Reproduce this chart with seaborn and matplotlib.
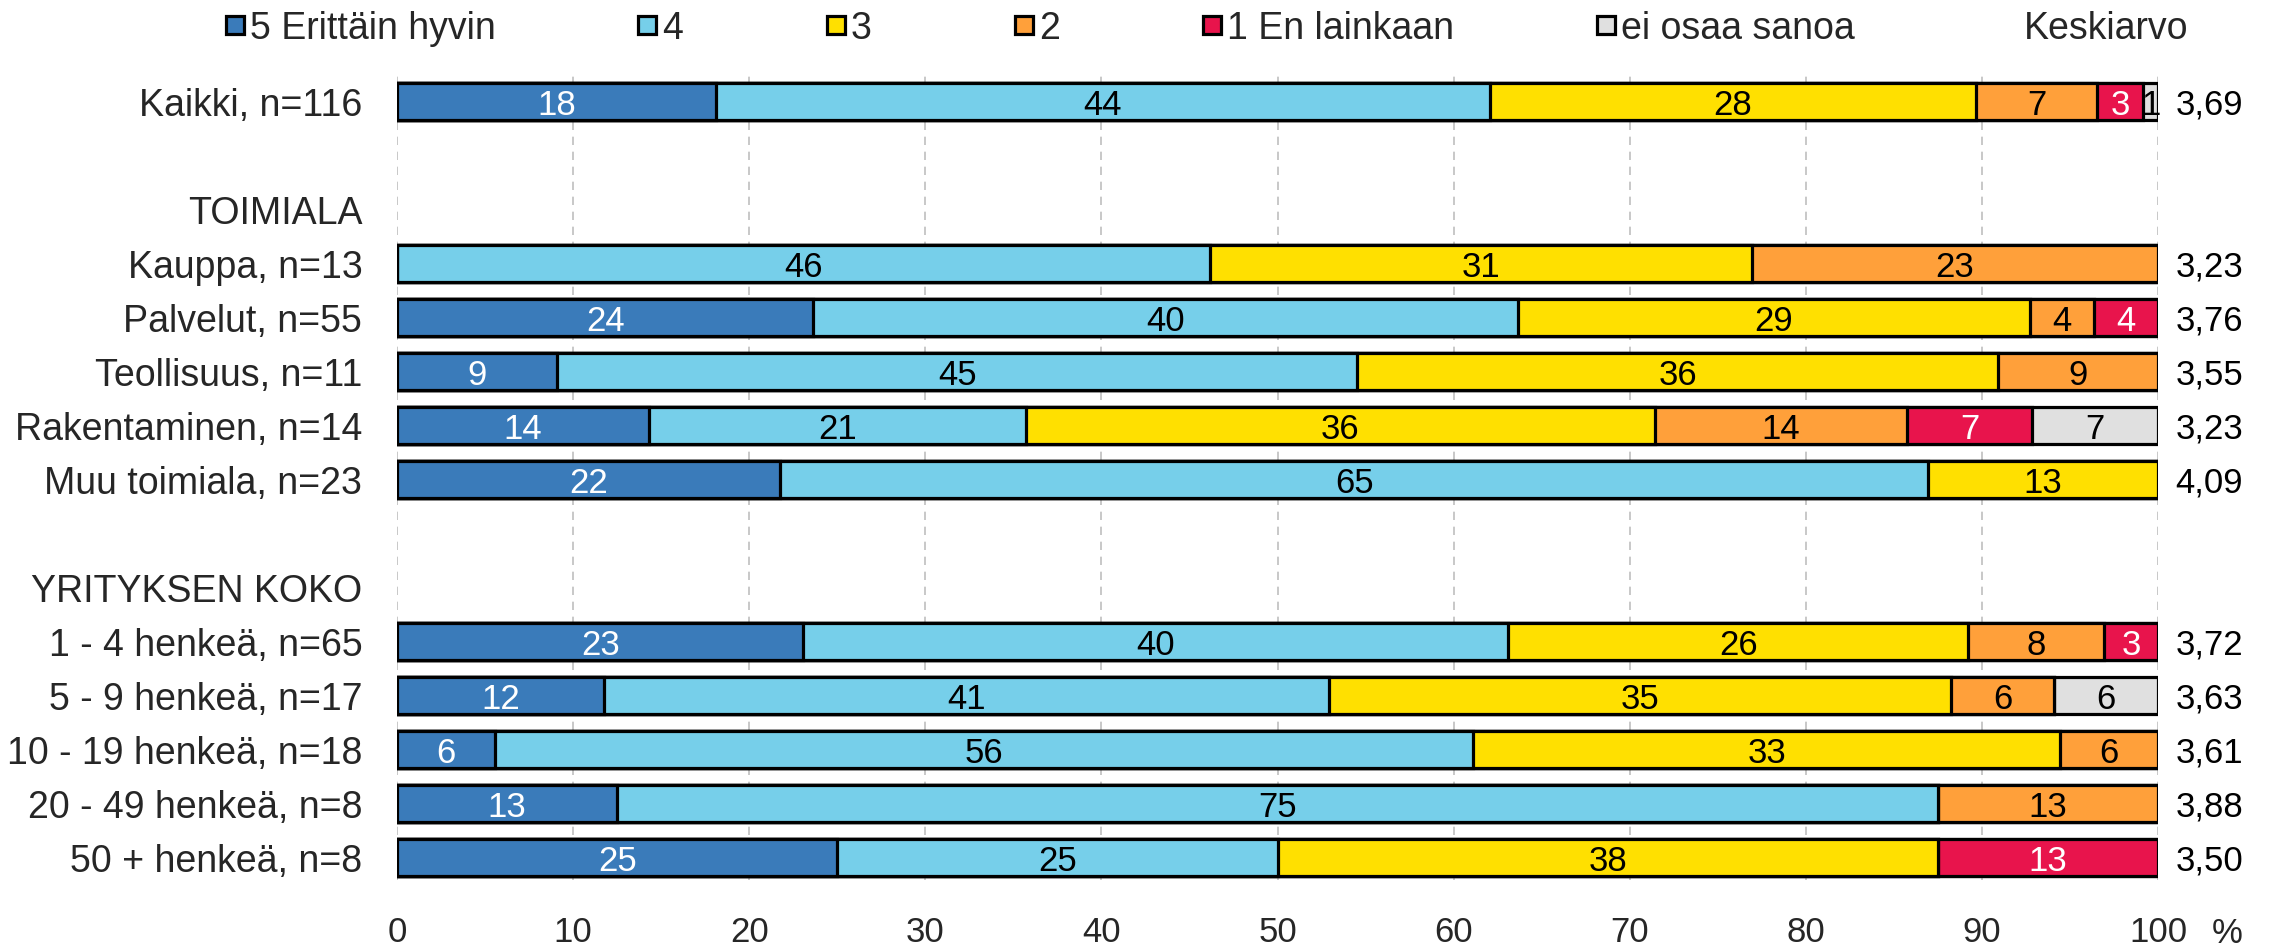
import matplotlib
matplotlib.use("Agg")
import matplotlib.pyplot as plt
from matplotlib.patches import Rectangle
import numpy as np
import pandas as pd
import seaborn as sns

# ─── Data ─────────────────────────────────────────────────────────────────────
groups = [
    "Kaikki, n=116",
    "Kauppa, n=13", "Palvelut, n=55", "Teollisuus, n=11",
    "Rakentaminen, n=14", "Muu toimiala, n=23",
    "1 - 4 henkeä, n=65", "5 - 9 henkeä, n=17", "10 - 19 henkeä, n=18",
    "20 - 49 henkeä, n=8", "50 + henkeä, n=8",
]
row_order = [
    "Kaikki, n=116", " ", "TOIMIALA",
    "Kauppa, n=13", "Palvelut, n=55", "Teollisuus, n=11",
    "Rakentaminen, n=14", "Muu toimiala, n=23", "  ", "YRITYKSEN KOKO",
    "1 - 4 henkeä, n=65", "5 - 9 henkeä, n=17", "10 - 19 henkeä, n=18",
    "20 - 49 henkeä, n=8", "50 + henkeä, n=8",
]
levels = ["5 Erittäin hyvin", "4", "3", "2", "1 En lainkaan", "ei osaa sanoa"]

v5 = [18.10, 0.00, 23.64, 9.09, 14.29, 21.74, 23.08, 11.76, 5.56, 12.50, 25.00]
v4 = [43.97, 46.15, 40.00, 45.45, 21.43, 65.22, 40.00, 41.18, 55.56, 75.00, 25.00]
v3 = [27.59, 30.77, 29.09, 36.36, 35.71, 13.04, 26.15, 35.29, 33.33, 0.00, 37.50]
v2 = [6.90, 23.08, 3.64, 9.09, 14.29, 0.00, 7.69, 5.88, 5.56, 12.50, 0.00]
v1 = [2.59, 0.00, 3.64, 0.00, 7.14, 0.00, 3.08, 0.00, 0.00, 0.00, 12.50]
veos = [0.86, 0.00, 0.00, 0.00, 7.14, 0.00, 0.00, 5.88, 0.00, 0.00, 0.00]
keskiarvo = ["3,69", "3,23", "3,76", "3,55", "3,23", "4,09",
             "3,72", "3,63", "3,61", "3,88", "3,50"]
x_ticks = [0, 10, 20, 30, 40, 50, 60, 70, 80, 90, 100]

COLORS = ["#3A7BBA", "#76CFEA", "#FFE000", "#FFA03A", "#E8144C", "#E0E0E0"]
TEXT_COLORS = ["white", "black", "black", "black", "white", "black"]

W, H = 2277, 946
FS_NUM = 25    # numbers in bars, ticks, averages
FS_TXT = 27    # row labels and legend text

sns.set_theme(style="white")
plt.rcParams["font.family"] = ["Liberation Sans", "DejaVu Sans"]

vals = np.array([v5, v4, v3, v2, v1, veos])
cum = np.cumsum(vals, axis=0)

fig = plt.figure(figsize=(W / 100, H / 100), dpi=100, facecolor="white")
ax = fig.add_axes([397 / W, 66 / H, (2158 - 397) / W, (880 - 74) / H])

# stacked bars: draw cumulative totals from the right-most level down
for i in range(len(levels) - 1, -1, -1):
    df = pd.DataFrame({"group": groups, "cum": cum[i]})
    sns.barplot(data=df, x="cum", y="group", order=row_order, orient="h",
                color=COLORS[i], saturation=1, edgecolor="black",
                linewidth=2.3, width=0.68, errorbar=None, ax=ax)

pos = {g: row_order.index(g) for g in groups}
for i in range(len(levels)):
    for j, g in enumerate(groups):
        v = vals[i, j]
        if v <= 0:
            continue
        xc = cum[i, j] - v / 2
        ax.text(xc, pos[g], str(int(v + 0.5)), ha="center", va="center_baseline",
                fontsize=FS_NUM, color=TEXT_COLORS[i])

for j, g in enumerate(groups):
    ax.text(101.0, pos[g], keskiarvo[j], ha="left", va="center_baseline",
            fontsize=FS_NUM, color="black", clip_on=False)

ax.set_xlim(0, 100)
ax.set_ylim(14.41, -0.51)
ax.set_xticks(x_ticks)
ax.set_xticklabels([str(t) for t in x_ticks], fontsize=FS_NUM)
ax.set_yticks(range(len(row_order)))
ax.set_yticklabels(row_order, fontsize=FS_TXT)
ax.tick_params(axis="x", length=0, pad=26)
ax.tick_params(axis="y", length=0, pad=25)
ax.set_xlabel("")
ax.set_ylabel("")
for s in ax.spines.values():
    s.set_visible(False)
ax.grid(axis="x", color="#BFBFBF", linestyle=(0, (5, 4)), linewidth=1.2)
ax.grid(axis="y", visible=False)
ax.set_axisbelow(True)

fig.text(2227 / W, 1 - 930 / H, "%", ha="center", va="center_baseline", fontsize=FS_NUM)

# legend row
marker_x = [235, 647, 836, 1024, 1212, 1606]
ly = 25
for mx, lab, col in zip(marker_x, levels, COLORS):
    fig.add_artist(Rectangle(((mx - 9) / W, 1 - (ly + 9) / H), 18 / W, 18 / H,
                             transform=fig.transFigure, facecolor=col,
                             edgecolor="black", linewidth=2.3))
    fig.text((mx + 15) / W, 1 - ly / H, lab, ha="left", va="center_baseline",
             fontsize=FS_TXT)
fig.text(2106 / W, 1 - ly / H, "Keskiarvo", ha="center", va="center_baseline",
         fontsize=FS_TXT)

fig.savefig("out.png", dpi=100, facecolor="white")
